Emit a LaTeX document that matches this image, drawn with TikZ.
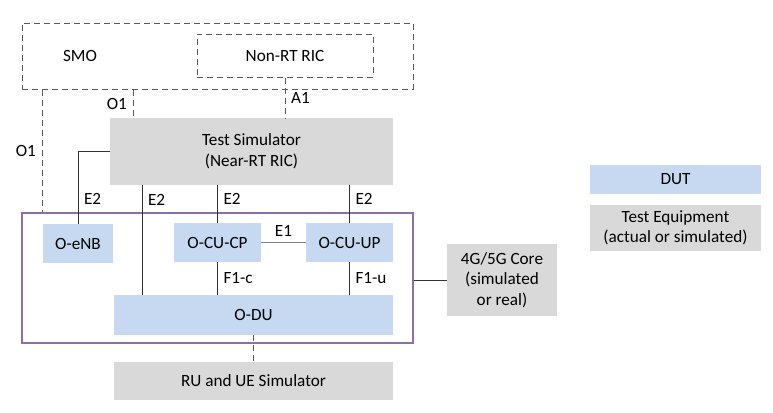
\documentclass[tikz,border=0pt]{standalone}
\usepackage{fontspec}
\setmainfont{Carlito}
\usepackage{tikz}
\usetikzlibrary{positioning}
\definecolor{dutblue}{RGB}{198,217,240}
\definecolor{testgray}{RGB}{217,217,217}
\definecolor{sysviolet}{RGB}{140,110,175}
\definecolor{linegray}{RGB}{89,89,89}
\tikzset{node distance=6pt, font=\fontsize{10.3}{12.4}\selectfont,
  dut/.style={fill=dutblue, align=center, inner sep=0pt},
  testeq/.style={fill=testgray, align=center, inner sep=0pt},
  dashbox/.style={draw=linegray, dash pattern=on 3.6pt off 2.4pt, line width=0.6pt},
  dashlink/.style={draw=linegray, dash pattern=on 3.6pt off 2.4pt, line width=0.6pt},
  link/.style={draw=black!80, line width=0.6pt}}

\begin{document}
\begin{tikzpicture}[x=0.6pt, y=-0.6pt]
             \useasboundingbox (0,0) rectangle (773,412);

             \node (SMO) [dashbox, minimum width=234.6pt, minimum height=39.6pt] at (217.5,56) {};
             \node at (80,56) {SMO};
             \node (RIC) [dashbox, minimum width=105.6pt, minimum height=25.8pt] at (285,55.5) {Non-RT RIC};

             \node (Sys) [draw=sysviolet, line width=0.7pt, minimum width=234.6pt, minimum height=78pt] at (217.5,278) {};

             \node (TS) [testeq, minimum width=169.8pt, minimum height=40.2pt] at (251.5,151.5) {Test Simulator\\(Near-RT RIC)};
             \node (eNB) [dut, minimum width=42pt, minimum height=23.4pt] at (78,243.5) {O-eNB};
             \node (CP) [dut, minimum width=52.2pt, minimum height=23.4pt] at (217.5,242.5) {O-CU-CP};
             \node (UP) [dut, minimum width=52.2pt, minimum height=23.4pt] at (349.5,242.5) {O-CU-UP};
             \node (DU) [dut, minimum width=167.4pt, minimum height=24pt] at (253.5,315) {O-DU};
             \node (RU) [testeq, minimum width=167.4pt, minimum height=22.8pt] at (253.5,381) {RU and UE Simulator};
             \node (Core) [testeq, minimum width=66pt, minimum height=43.2pt] at (502,280) {4G/5G Core\\(simulated\\or real)};

             \node (DUT) [dut, minimum width=102.6pt, minimum height=17.4pt] at (675.5,179.5) {DUT};
             \node (TE) [testeq, minimum width=102.6pt, minimum height=27.6pt, below=of DUT] {Test Equipment\\(actual or simulated)};

             \coordinate (o1a) at (42,0);
             \coordinate (o1b) at (133,0);
             \coordinate (e2du) at (142,0);

             \draw [dashlink] (SMO.south -| o1a) to node [left] {O1} (Sys.north -| o1a);
             \draw [dashlink] (SMO.south -| o1b) to node [left] {O1} (TS.north -| o1b);
             \draw [dashlink] (RIC.south) to node [right] {A1} (TS.north -| RIC.south);

             \draw [link] (TS.west) -| node [right, pos=0.83] {E2} (eNB.north);
             \draw [link] (TS.south -| e2du) to node [right, pos=0.13] {E2} (DU.north -| e2du);
             \draw [link] (TS.south -| CP.north) to node [right, pos=0.37] {E2} (CP.north);
             \draw [link] (TS.south -| UP.north) to node [right, pos=0.37] {E2} (UP.north);

             \draw [draw=black!50, line width=1pt] (CP.east) to node [above] {E1} (UP.west);
             \draw [link] (CP.south) to node [right] {F1-c} (DU.north -| CP.south);
             \draw [link] (UP.south) to node [right] {F1-u} (DU.north -| UP.south);

             \draw [dashlink] (DU.south) -- (RU.north);
             \draw [link] (Sys.east |- Core.west) -- (Core.west);
          \end{tikzpicture}
\end{document}
